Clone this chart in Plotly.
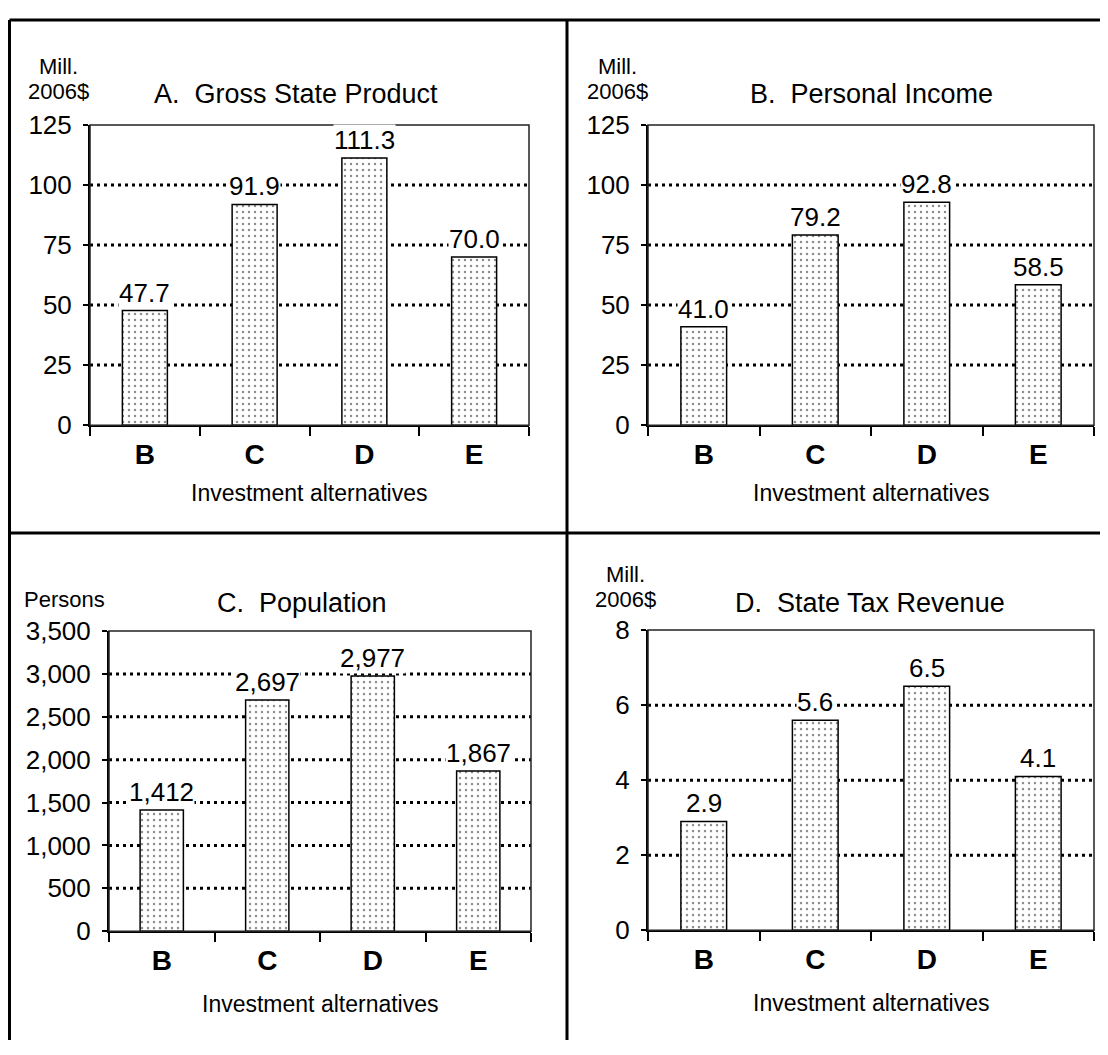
import plotly.graph_objects as go

# The page body has an 8px default margin; the figure is drawn in page pixels minus that offset.
PAGE_W, PAGE_H = 1108, 1055
OFF = 8
W, H = PAGE_W - OFF, PAGE_H - OFF
FONT = "Liberation Sans, Arial, Helvetica, sans-serif"

categories = ["B", "C", "D", "E"]
gross_state_product = [47.7, 91.9, 111.3, 70.0]
personal_income = [41.0, 79.2, 92.8, 58.5]
population = [1412, 2697, 2977, 1867]
state_tax_revenue = [2.9, 5.6, 6.5, 4.1]

panel_titles = ["A.  Gross State Product", "B.  Personal Income",
                "C.  Population", "D.  State Tax Revenue"]
unit_lines = [["Mill.", "2006$"], ["Mill.", "2006$"], ["Persons"], ["Mill.", "2006$"]]
y_max = [125, 125, 3500, 8]
y_step = [25, 25, 500, 2]
label_fmt = ["{:.1f}", "{:.1f}", "{:,.0f}", "{:.1f}"]
tick_fmt = ["", "", ",", ""]
x_title = "Investment alternatives"

series = [gross_state_product, personal_income, population, state_tax_revenue]

# layout geometry in page pixels (x0, x1, y_top, y_bottom)
plot_px = [(90, 529, 113, 422), (648, 1094, 113, 422),
           (109, 531, 634, 943), (648, 1094, 633, 942)]
title_px = [(296, 81), (871, 81), (302, 605), (870, 605)]
unit_px = [[(58, 53), (58, 79)], [(617, 53), (617, 79)],
           [(64, 601)], [(625, 576), (625, 601)]]
xtitle_gap = [70, 70, 75, 75]


def px_x(v):
    return (v - OFF) / W


def px_y(v):
    return 1 - (v - OFF) / H


fig = go.Figure()
annotations = []
shapes = []

for i in range(4):
    ax = "" if i == 0 else str(i + 1)
    x0, x1, yt, yb = plot_px[i]
    vals = series[i]
    fig.add_trace(go.Bar(
        x=categories, y=vals, xaxis="x" + ax, yaxis="y" + ax,
        marker=dict(color="white", line=dict(color="black", width=1.5),
                    pattern=dict(shape=".", fgcolor="#1a1a1a", bgcolor="white",
                                 size=6, solidity=0.14)),
        showlegend=False, hoverinfo="skip",
    ))
    xa = dict(domain=[px_x(x0), px_x(x1)], anchor="y" + ax,
              showline=True, linecolor="black", linewidth=2,
              ticks="outside", ticklen=9, tickwidth=2, tickcolor="black",
              tickson="boundaries", showgrid=False, fixedrange=True,
              tickfont=dict(family=FONT, size=28, color="black", weight="bold"),
              ticklabelstandoff=3)
    ya = dict(domain=[px_y(yb), px_y(yt)], anchor="x" + ax,
              range=[0, y_max[i]], dtick=y_step[i], tick0=0,
              showline=True, linecolor="black", linewidth=2,
              ticks="outside", ticklen=5, tickwidth=2, tickcolor="black",
              showgrid=False, zeroline=False, fixedrange=True,
              tickformat=tick_fmt[i], ticklabelstandoff=6,
              tickfont=dict(family=FONT, size=26, color="black"))
    fig.update_layout(**{"xaxis" + ax: xa, "yaxis" + ax: ya})

    # dotted gridlines at interior ticks
    v = y_step[i]
    while v < y_max[i]:
        shapes.append(dict(type="line", xref="x" + ax + " domain", yref="y" + ax,
                           x0=0, x1=1, y0=v, y1=v, layer="below",
                           line=dict(color="black", width=3, dash="3px,4px")))
        v += y_step[i]

    # plot frame (top/right)
    shapes.append(dict(type="rect", xref="x" + ax + " domain", yref="y" + ax + " domain",
                       x0=0, x1=1, y0=0, y1=1, layer="above",
                       line=dict(color="#222", width=1.5)))

    # value labels
    for c, val in zip(categories, vals):
        annotations.append(dict(x=c, y=val, xref="x" + ax, yref="y" + ax,
                                text=label_fmt[i].format(val), showarrow=False,
                                yanchor="bottom", yshift=2, bgcolor="white",
                                borderpad=0,
                                font=dict(family=FONT, size=26, color="black")))

    # titles
    tx, ty = title_px[i]
    annotations.append(dict(x=px_x(tx), y=px_y(ty), xref="paper", yref="paper",
                            text=panel_titles[i], showarrow=False,
                            xanchor="center", yanchor="middle",
                            font=dict(family=FONT, size=27, color="black")))
    for line, (ux, uy) in zip(unit_lines[i], unit_px[i]):
        annotations.append(dict(x=px_x(ux), y=px_y(uy), xref="paper", yref="paper",
                                text=line, showarrow=False,
                                xanchor="center", yanchor="middle",
                                font=dict(family=FONT, size=22, color="black")))
    # x-axis title
    xt_y = yb + xtitle_gap[i]
    annotations.append(dict(x=px_x((x0 + x1) / 2), y=px_y(xt_y), xref="paper", yref="paper",
                            text=x_title, showarrow=False,
                            xanchor="center", yanchor="middle",
                            font=dict(family=FONT, size=23, color="black")))

# outer frame and dividers (page coords: top y=5, left x=7, mid x=567, mid y=533)
frame = dict(color="black", width=3)
top_y = max(px_y(5), px_y(OFF + 1.5))
left_x = max(px_x(7), px_x(OFF + 1.5))
shapes += [
    dict(type="line", xref="paper", yref="paper", x0=left_x, x1=1, y0=top_y, y1=top_y, line=frame),
    dict(type="line", xref="paper", yref="paper", x0=left_x, x1=left_x, y0=top_y, y1=0, line=frame),
    dict(type="line", xref="paper", yref="paper", x0=px_x(567), x1=px_x(567), y0=top_y, y1=0, line=frame),
    dict(type="line", xref="paper", yref="paper", x0=left_x, x1=1, y0=px_y(533), y1=px_y(533), line=frame),
]

fig.update_layout(
    width=W, height=H, margin=dict(l=0, r=0, t=0, b=0),
    paper_bgcolor="white", plot_bgcolor="white",
    bargap=0.59, annotations=annotations, shapes=shapes,
    font=dict(family=FONT, color="black"),
)

fig.write_html("out.html")
